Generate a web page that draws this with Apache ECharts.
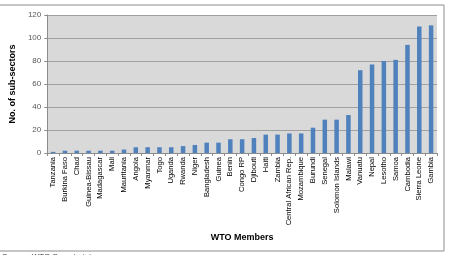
<!DOCTYPE html>
<html>
<head>
<meta charset="utf-8">
<script src="https://cdn.jsdelivr.net/npm/echarts@6/dist/echarts.min.js"></script>
<style>
  html, body { margin: 0; padding: 0; background: #fff; }
  #chart { width: 449px; height: 255px; }
</style>
</head>
<body>
<div id="chart"></div>
<script>
// 国家 / 数值
var members = ['Tanzania', 'Burkina Faso', 'Chad', 'Guinea-Bissau', 'Madagascar', 'Mali', 'Mauritania',
    'Angola', 'Myanmar', 'Togo', 'Uganda', 'Rwanda', 'Niger', 'Bangladesh', 'Guinea', 'Benin', 'Congo RP',
    'Djibouti', 'Haiti', 'Zambia', 'Central African Rep.', 'Mozambique', 'Burundi', 'Senegal',
    'Solomon Islands', 'Malawi', 'Vanuatu', 'Nepal', 'Lesotho', 'Samoa', 'Cambodia', 'Sierra Leone', 'Gambia']
var sub_sectors = [1, 2, 2, 2, 2, 2, 3, 5, 5, 5, 5, 6, 7, 9, 9, 12, 12, 13, 16, 16, 17, 17, 22, 29, 29, 33,
    72, 77, 80, 81, 94, 110, 111]
var y_ticks = [0, 20, 40, 60, 80, 100, 120]

var myChart = echarts.init(document.getElementById('chart'))
var font = 'Liberation Sans'
option = {
    animation: false,
    graphic: [{
        type: 'rect',
        shape: { x: -2, y: 5, width: 446, height: 246 },
        style: { fill: 'none', stroke: '#8c8c8c', lineWidth: 1 }
    }, {
        type: 'text',
        left: 2, top: 253,
        style: { text: 'Source: WTO Secretariat.', font: '8px ' + font, fill: '#404040' }
    }],
    grid: { left: 47, right: 12, top: 15, bottom: 102, backgroundColor: '#d9d9d9', show: true, borderWidth: 0 },
    xAxis: {
        type: 'category',
        data: members,
        name: 'WTO Members',
        nameLocation: 'middle',
        nameGap: 78,
        nameTextStyle: { fontFamily: font, fontSize: 9, fontWeight: 'bold', color: '#000' },
        axisLine: { lineStyle: { color: '#8c8c8c' } },
        axisTick: { show: true, alignWithLabel: false, length: 3, lineStyle: { color: '#8c8c8c' } },
        axisLabel: { rotate: 90, interval: 0, fontFamily: font, fontSize: 7.6, color: '#000', margin: 4 }
    },
    yAxis: {
        type: 'value',
        min: 0,
        max: 120,
        interval: 20,
        name: 'No. of sub-sectors',
        nameLocation: 'middle',
        nameGap: 24,
        nameTextStyle: { fontFamily: font, fontSize: 9, fontWeight: 'bold', color: '#000' },
        axisLine: { show: true, lineStyle: { color: '#8c8c8c' } },
        axisTick: { show: true, length: 3, lineStyle: { color: '#8c8c8c' } },
        axisLabel: {
            fontFamily: font, fontSize: 8, color: '#595959', margin: 6,
            formatter: function(v) { return y_ticks.indexOf(v) >= 0 ? String(v) : '' }
        },
        splitLine: { lineStyle: { color: '#a0a0a0' } }
    },
    series: [{
        type: 'bar',
        data: sub_sectors,
        barWidth: 4.5,
        itemStyle: { color: '#4f81bd' }
    }]
}
myChart.setOption(option)
</script>
</body>
</html>
